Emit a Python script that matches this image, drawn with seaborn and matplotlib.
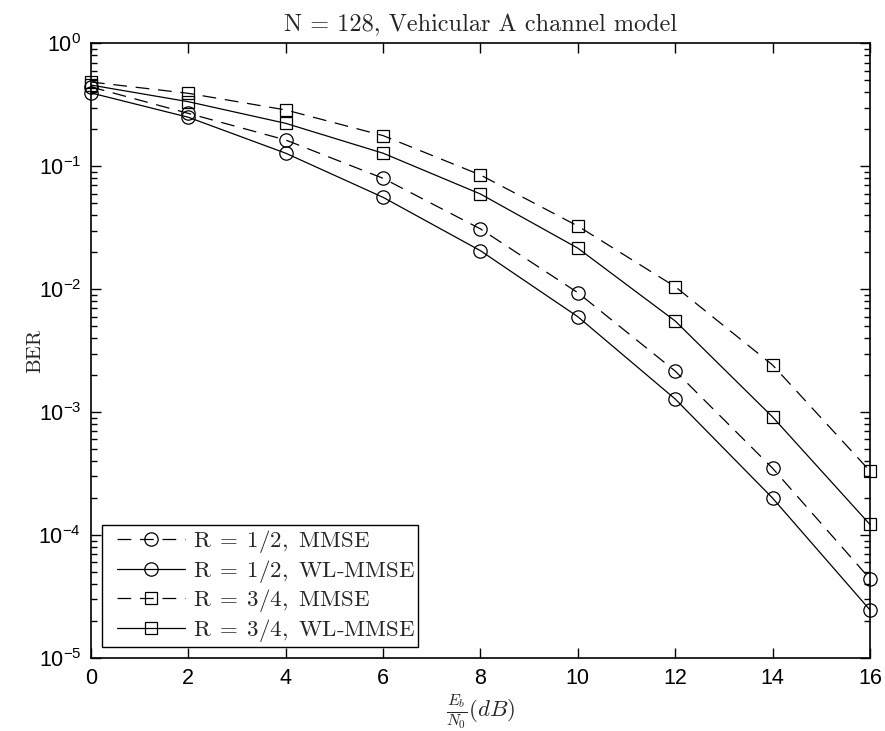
import numpy as np
import pandas as pd
import matplotlib
matplotlib.use("Agg")
import matplotlib.pyplot as plt
from matplotlib.ticker import LogLocator, NullFormatter, FixedLocator
from matplotlib.font_manager import FontProperties
from matplotlib.legend_handler import HandlerLine2D
from matplotlib.lines import Line2D
import seaborn as sns

# Eb/N0 grid (dB)
ebn0 = [0, 2, 4, 6, 8, 10, 12, 14, 16]

# Bit error rates for each receiver / code rate
ber_r12_mmse = [0.443, 0.270, 0.164, 0.080, 0.031, 0.00938, 0.00216, 0.00035, 4.4e-5]
ber_r12_wl = [0.396, 0.251, 0.128, 0.056, 0.0206, 0.00598, 0.00128, 0.00020, 2.46e-5]
ber_r34_mmse = [0.486, 0.393, 0.288, 0.178, 0.0851, 0.0327, 0.0105, 0.00242, 3.32e-4]
ber_r34_wl = [0.459, 0.336, 0.224, 0.128, 0.0596, 0.0216, 0.00552, 0.000914, 1.22e-4]

labels = [r"$\mathrm{R}\;=\;1/2,\ \mathrm{MMSE}$",
          r"$\mathrm{R}\;=\;1/2,\ \mathrm{WL}$-$\mathrm{MMSE}$",
          r"$\mathrm{R}\;=\;3/4,\ \mathrm{MMSE}$",
          r"$\mathrm{R}\;=\;3/4,\ \mathrm{WL}$-$\mathrm{MMSE}$"]
x_ticks = [0, 2, 4, 6, 8, 10, 12, 14, 16]

sns.set_theme(style="ticks")
plt.rcParams["font.family"] = ["Liberation Sans", "DejaVu Sans"]
plt.rcParams["mathtext.fontset"] = "custom"
plt.rcParams["mathtext.rm"] = "Liberation Sans"
plt.rcParams["mathtext.it"] = "Liberation Sans:italic"

fig = plt.figure(figsize=(8.85, 7.31), dpi=100)
ax = fig.add_axes([0.1028, 0.0999, 0.8802, 0.8406])

dash = (0, (11, 7))
styles = [
    dict(marker="o", ms=9.6, linestyle=dash),
    dict(marker="o", ms=9.6, linestyle="-"),
    dict(marker="s", ms=8.6, linestyle=dash),
    dict(marker="s", ms=8.6, linestyle="-"),
]
series = [ber_r12_mmse, ber_r12_wl, ber_r34_mmse, ber_r34_wl]

for vals, lab, st in zip(series, labels, styles):
    df = pd.DataFrame({"ebn0": ebn0, "ber": vals})
    sns.lineplot(data=df, x="ebn0", y="ber", ax=ax, color="black", lw=0.9,
                 marker=st["marker"], markersize=st["ms"], markerfacecolor="none",
                 markeredgecolor="black", markeredgewidth=0.9,
                 linestyle=st["linestyle"], label=lab, clip_on=False)

ax.set_yscale("log")
ax.set_xlim(0, 16)
ax.set_ylim(1e-5, 1)
ax.xaxis.set_major_locator(FixedLocator(x_ticks))
ax.yaxis.set_major_locator(LogLocator(base=10, numticks=10))
ax.yaxis.set_minor_locator(LogLocator(base=10, subs=np.arange(2, 10), numticks=20))
ax.yaxis.set_minor_formatter(NullFormatter())
ax.tick_params(which="both", direction="in", top=True, right=True, labelsize=15.5,
               width=1.0, colors="black")
ax.tick_params(which="major", length=7, pad=7)
ax.tick_params(which="minor", length=4)
ax.xaxis.set_minor_locator(FixedLocator([]))
for sp in ax.spines.values():
    sp.set_linewidth(1.2)
    sp.set_color("black")

ax.set_title("N = 128, Vehicular A channel model", fontfamily="cmr10",
             fontsize=17.5, pad=9)
ax.set_xlabel(r"$\frac{E_b}{N_0}(dB)$", fontsize=16.5, math_fontfamily="cm",
              labelpad=3)
ax.set_ylabel("BER", fontfamily="cmr10", fontsize=15)
ax.yaxis.set_label_coords(-0.06, 0.5)

leg_font = FontProperties(family="cmr10", size=16.5, math_fontfamily="cm")
leg = ax.legend(loc="lower left", prop=leg_font,
                handlelength=3.49, handletextpad=0.35, labelspacing=0.11,
                borderaxespad=0.48, borderpad=0.13, fancybox=False,
                framealpha=1, edgecolor="black",
                handler_map={Line2D: HandlerLine2D(xpad=0.52)})
leg.get_frame().set_linewidth(1.0)

fig.savefig("out.png", dpi=100, facecolor="white")
